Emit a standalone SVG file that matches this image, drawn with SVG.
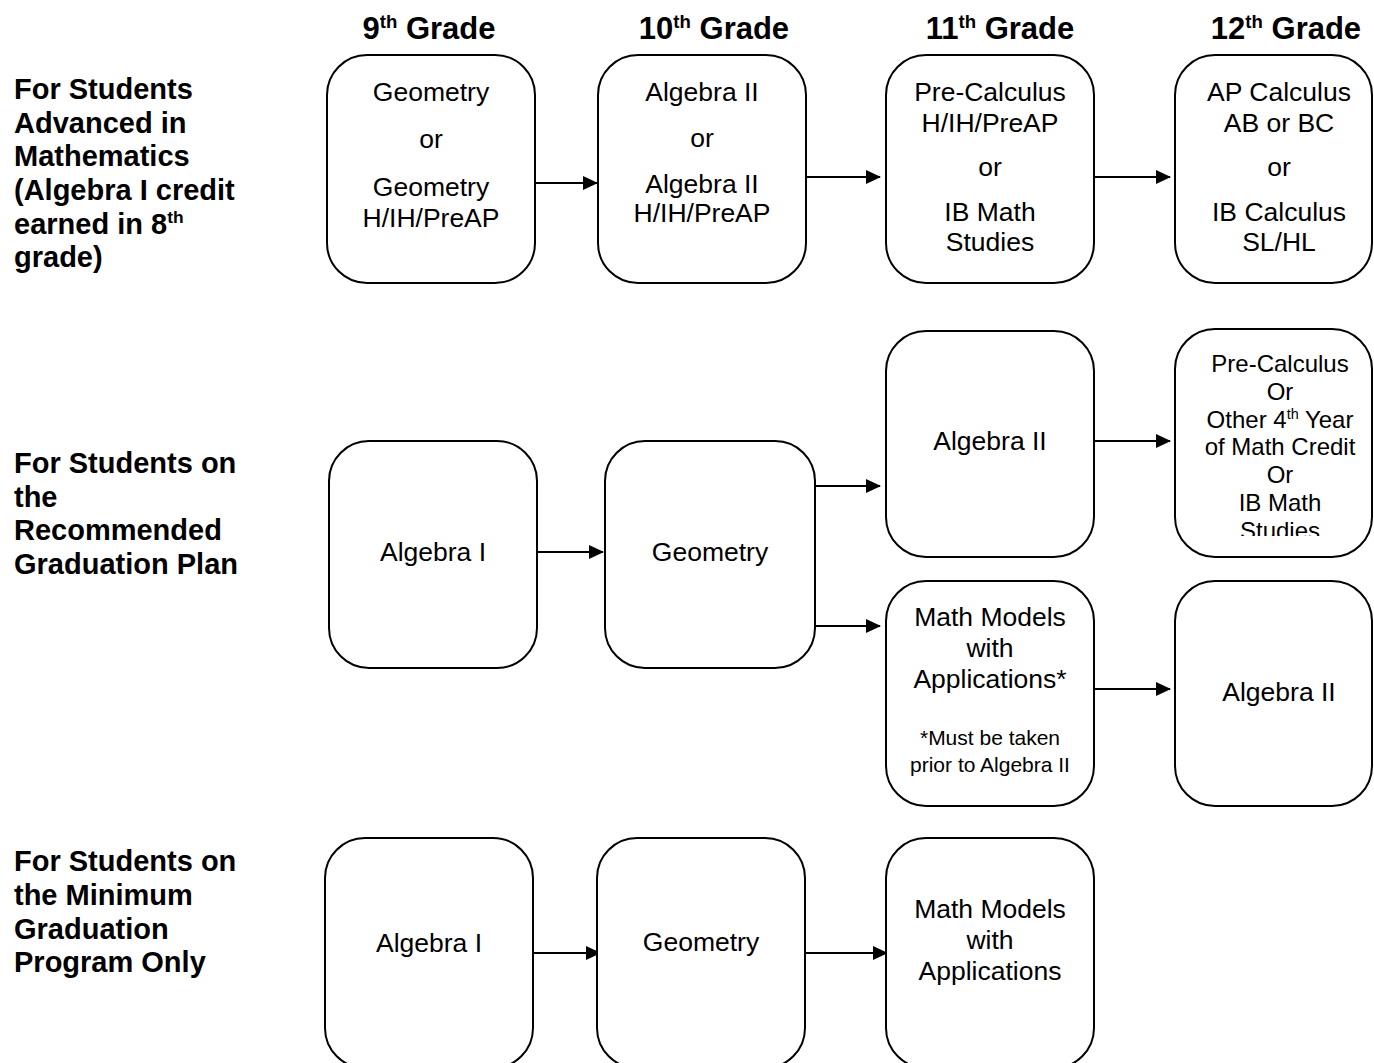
<svg xmlns="http://www.w3.org/2000/svg" width="1374" height="1063" viewBox="0 0 1374 1063">
<style>
.box{fill:#fff;stroke:#000;stroke-width:2}
.t{font-family:"Liberation Sans",Arial,sans-serif;font-size:26.5px;fill:#000;text-anchor:middle}
.s{font-size:24px}
.xs{font-size:21px}
.h{font-family:"Liberation Sans",Arial,sans-serif;font-size:31px;font-weight:bold;fill:#000;text-anchor:middle}
.l{font-family:"Liberation Sans",Arial,sans-serif;font-size:29px;font-weight:bold;fill:#000}
.sup{font-size:60%}
.c{stroke:#000;stroke-width:2;fill:none;marker-end:url(#ah)}
</style>
<defs>
<marker id="ah" markerUnits="userSpaceOnUse" markerWidth="15" markerHeight="14" refX="14" refY="7" orient="auto">
<path d="M0,0 L15,7 L0,14 z" fill="#000"/>
</marker>
<clipPath id="clipH"><rect x="1170" y="320" width="210" height="216"/></clipPath>
</defs>
<rect width="1374" height="1063" fill="#fff"/>

<g id="headers">
<text class="h" x="429" y="39">9<tspan class="sup" dy="-11">th</tspan><tspan dy="11"> Grade</tspan></text>
<text class="h" x="714" y="39">10<tspan class="sup" dy="-11">th</tspan><tspan dy="11"> Grade</tspan></text>
<text class="h" x="1000" y="39">11<tspan class="sup" dy="-11">th</tspan><tspan dy="11"> Grade</tspan></text>
<text class="h" x="1286" y="39">12<tspan class="sup" dy="-11">th</tspan><tspan dy="11"> Grade</tspan></text>
</g>

<g id="labels">
<text class="l" x="14" y="99">For Students</text>
<text class="l" x="14" y="133">Advanced in</text>
<text class="l" x="14" y="166">Mathematics</text>
<text class="l" x="14" y="200">(Algebra I credit</text>
<text class="l" x="14" y="234">earned in 8<tspan class="sup" dy="-11">th</tspan></text>
<text class="l" x="14" y="267">grade)</text>
<text class="l" x="14" y="473">For Students on</text>
<text class="l" x="14" y="507">the</text>
<text class="l" x="14" y="540">Recommended</text>
<text class="l" x="14" y="574">Graduation Plan</text>
<text class="l" x="14" y="871">For Students on</text>
<text class="l" x="14" y="905">the Minimum</text>
<text class="l" x="14" y="939">Graduation</text>
<text class="l" x="14" y="972">Program Only</text>
</g>

<g id="connectors">
<line class="c" x1="535" y1="183" x2="597" y2="183"/>
<line class="c" x1="806" y1="177" x2="880" y2="177"/>
<line class="c" x1="1094" y1="177" x2="1170" y2="177"/>
<line class="c" x1="537" y1="552" x2="603" y2="552"/>
<line class="c" x1="815" y1="486" x2="880" y2="486"/>
<line class="c" x1="815" y1="626" x2="880" y2="626"/>
<line class="c" x1="1094" y1="441" x2="1170" y2="441"/>
<line class="c" x1="1094" y1="689" x2="1170" y2="689"/>
<line class="c" x1="533" y1="953" x2="600" y2="953"/>
<line class="c" x1="805" y1="953" x2="887" y2="953"/>
</g>

<g id="adv-9">
<rect class="box" x="327" y="55" width="208" height="228" rx="40"/>
<text class="t" x="431" y="101">Geometry</text>
<text class="t" x="431" y="148">or</text>
<text class="t" x="431" y="196">Geometry</text>
<text class="t" x="431" y="227">H/IH/PreAP</text>
</g>
<g id="adv-10">
<rect class="box" x="598" y="55" width="208" height="228" rx="40"/>
<text class="t" x="702" y="101">Algebra II</text>
<text class="t" x="702" y="147">or</text>
<text class="t" x="702" y="193">Algebra II</text>
<text class="t" x="702" y="222">H/IH/PreAP</text>
</g>
<g id="adv-11">
<rect class="box" x="886" y="55" width="208" height="228" rx="40"/>
<text class="t" x="990" y="101">Pre-Calculus</text>
<text class="t" x="990" y="132">H/IH/PreAP</text>
<text class="t" x="990" y="176">or</text>
<text class="t" x="990" y="221">IB Math</text>
<text class="t" x="990" y="251">Studies</text>
</g>
<g id="adv-12">
<rect class="box" x="1175" y="55" width="197" height="228" rx="40"/>
<text class="t" x="1279" y="101">AP Calculus</text>
<text class="t" x="1279" y="132">AB or BC</text>
<text class="t" x="1279" y="176">or</text>
<text class="t" x="1279" y="221">IB Calculus</text>
<text class="t" x="1279" y="251">SL/HL</text>
</g>

<g id="rec-9">
<rect class="box" x="329" y="441" width="208" height="227" rx="40"/>
<text class="t" x="433" y="561">Algebra I</text>
</g>
<g id="rec-10">
<rect class="box" x="605" y="441" width="210" height="227" rx="40"/>
<text class="t" x="710" y="561">Geometry</text>
</g>
<g id="rec-11a">
<rect class="box" x="886" y="331" width="208" height="226" rx="40"/>
<text class="t" x="990" y="450">Algebra II</text>
</g>
<g id="rec-12a">
<rect class="box" x="1175" y="329" width="197" height="228" rx="40"/>
<g clip-path="url(#clipH)">
<text class="t s" x="1280" y="372">Pre-Calculus</text>
<text class="t s" x="1280" y="400">Or</text>
<text class="t s" x="1280" y="428">Other 4<tspan class="sup" dy="-9">th</tspan><tspan dy="9"> Year</tspan></text>
<text class="t s" x="1280" y="455">of Math Credit</text>
<text class="t s" x="1280" y="483">Or</text>
<text class="t s" x="1280" y="511">IB Math</text>
<text class="t s" x="1280" y="539">Studies</text>
</g>
</g>
<g id="rec-11b">
<rect class="box" x="886" y="581" width="208" height="225" rx="40"/>
<text class="t" x="990" y="626">Math Models</text>
<text class="t" x="990" y="657">with</text>
<text class="t" x="990" y="688">Applications*</text>
<text class="t xs" x="990" y="745">*Must be taken</text>
<text class="t xs" x="990" y="772">prior to Algebra II</text>
</g>
<g id="rec-12b">
<rect class="box" x="1175" y="581" width="197" height="225" rx="40"/>
<text class="t" x="1279" y="701">Algebra II</text>
</g>

<g id="min-9">
<rect class="box" x="325" y="838" width="208" height="230" rx="40"/>
<text class="t" x="429" y="952">Algebra I</text>
</g>
<g id="min-10">
<rect class="box" x="597" y="838" width="208" height="230" rx="40"/>
<text class="t" x="701" y="951">Geometry</text>
</g>
<g id="min-11">
<rect class="box" x="886" y="838" width="208" height="230" rx="40"/>
<text class="t" x="990" y="918">Math Models</text>
<text class="t" x="990" y="949">with</text>
<text class="t" x="990" y="980">Applications</text>
</g>
</svg>
